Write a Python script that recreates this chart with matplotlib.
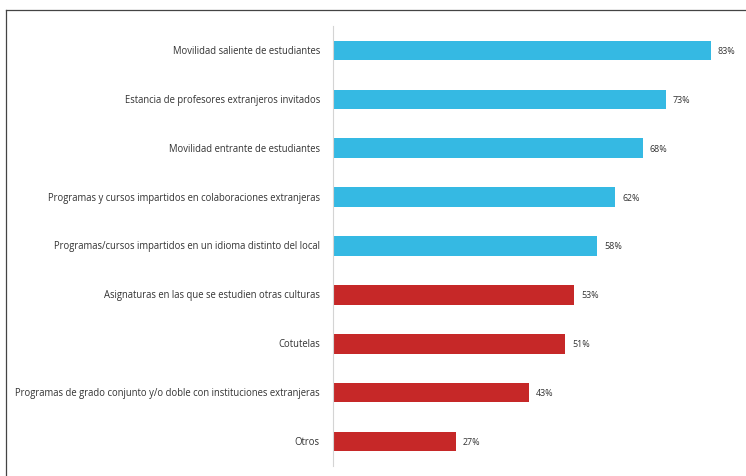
import matplotlib
matplotlib.use("Agg")
import matplotlib.pyplot as plt
from matplotlib.lines import Line2D

categories = [
    "Movilidad saliente de estudiantes",
    "Estancia de profesores extranjeros invitados",
    "Movilidad entrante de estudiantes",
    "Programas y cursos impartidos en colaboraciones extranjeras",
    "Programas/cursos impartidos en un idioma distinto del local",
    "Asignaturas en las que se estudien otras culturas",
    "Cotutelas",
    "Programas de grado conjunto y/o doble con instituciones extranjeras",
    "Otros",
]
values = [83, 73, 68, 62, 58, 53, 51, 43, 27]
groups = ["mov", "mov", "mov", "mov", "mov", "cur", "cur", "cur", "cur"]

palette = {"mov": "#35B9E3", "cur": "#C62828"}
text_color = "#333333"

plt.rcParams["font.family"] = ["Open Sans", "DejaVu Sans"]

W, H = 746, 477
fig = plt.figure(figsize=(W / 100, H / 100), dpi=100)
ax = fig.add_axes([333 / W, 1 - 467 / H, 410 / W, 440 / H])

pos = list(range(len(categories)))
colors = [palette[g] for g in groups]
ax.barh(pos, values, height=0.40, color=colors, edgecolor="none")

for p, v in zip(pos, values):
    ax.text(v + 1.5, p, f"{v}%", va="center", ha="left", fontsize=6.4,
            color=text_color)

ax.set_xlim(0, 90)
ax.set_ylim(8.5, -0.5)
ax.set_yticks(pos)
ax.set_yticklabels(categories, fontsize=6.85, color=text_color,
                   va="center")
for lbl in ax.get_yticklabels():
    lbl.set_y(lbl.get_position()[1])
ax.tick_params(axis="y", length=0, pad=9.5)
ax.set_xticks([])
for side in ["top", "right", "bottom"]:
    ax.spines[side].set_visible(False)
ax.spines["left"].set_color("#d4d4d4")
ax.spines["left"].set_linewidth(0.8)

# outer frame: top and left edges
fig.add_artist(Line2D([6 / W, 1.0], [1 - 11 / H, 1 - 11 / H],
                      transform=fig.transFigure, color="#444444", lw=0.9))
fig.add_artist(Line2D([6 / W, 6 / W], [0.0, 1 - 11 / H],
                      transform=fig.transFigure, color="#444444", lw=0.9))

fig.savefig("out.png", dpi=100, facecolor="white")
